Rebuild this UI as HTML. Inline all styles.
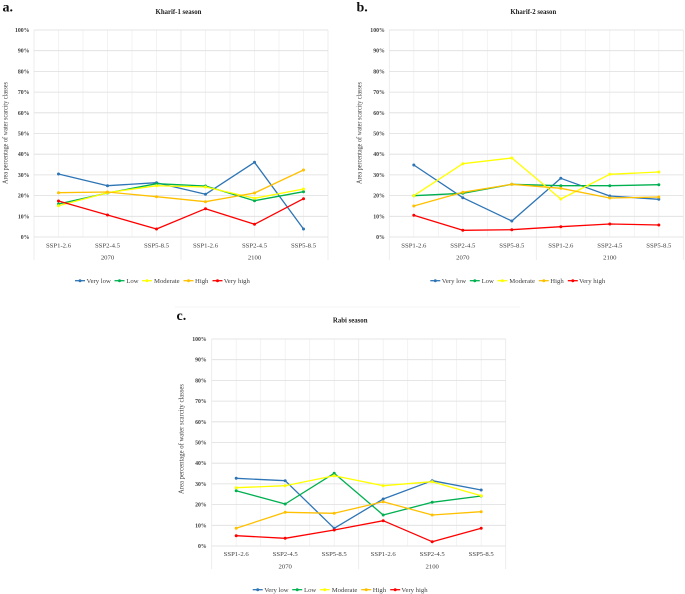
<!DOCTYPE html>
<html><head><meta charset="utf-8"><style>
html,body{margin:0;padding:0;background:#fff;}
svg{display:block;}
text{font-family:"Liberation Serif",serif;}
.t{font-size:5.8px;font-weight:bold;fill:#404040;text-anchor:end;}
.c{font-size:6.7px;fill:#404040;text-anchor:middle;}
.l{font-size:6.7px;fill:#404040;}
.ti{font-size:6.8px;font-weight:bold;fill:#222;text-anchor:middle;}
.yt{font-size:6.8px;fill:#404040;text-anchor:middle;}
.lt{font-size:14px;font-weight:bold;fill:#111;}
.hg{stroke:#dedede;stroke-width:0.8;}
.vg{stroke:#f0f0f0;stroke-width:0.8;}
.sp{stroke:#e8e8e8;stroke-width:0.8;}
.s{fill:none;stroke-width:1.3;stroke-linejoin:round;}
</style></head><body>
<svg width="685" height="594" viewBox="0 0 685 594" xmlns="http://www.w3.org/2000/svg">
<defs>
<marker id="m1" markerWidth="4" markerHeight="4" refX="2" refY="2" markerUnits="userSpaceOnUse"><circle cx="2" cy="2" r="1.5" fill="#2e75b6"/></marker>
<marker id="m2" markerWidth="4" markerHeight="4" refX="2" refY="2" markerUnits="userSpaceOnUse"><circle cx="2" cy="2" r="1.5" fill="#00b050"/></marker>
<marker id="m3" markerWidth="4" markerHeight="4" refX="2" refY="2" markerUnits="userSpaceOnUse"><circle cx="2" cy="2" r="1.5" fill="#ffff00"/></marker>
<marker id="m4" markerWidth="4" markerHeight="4" refX="2" refY="2" markerUnits="userSpaceOnUse"><circle cx="2" cy="2" r="1.5" fill="#ffc000"/></marker>
<marker id="m5" markerWidth="4" markerHeight="4" refX="2" refY="2" markerUnits="userSpaceOnUse"><circle cx="2" cy="2" r="1.5" fill="#ff0000"/></marker>
<g id="grid">
<path class="vg" d="M24.5 0V207M49 0V207M73.5 0V207M98 0V207M122.5 0V207M171.5 0V207M196 0V207M220.5 0V207M245 0V207M269.5 0V207"/>
<path class="sp" d="M0 0V230M147 0V230M294 0V230"/>
<path class="hg" d="M0 0H294M0 20.7H294M0 41.4H294M0 62.1H294M0 82.8H294M0 103.5H294M0 124.2H294M0 144.9H294M0 165.6H294M0 186.3H294M0 207H294"/>
<g stroke-width="1.3">
<line x1="41" y1="250.7" x2="51" y2="250.7" stroke="#2e75b6"/><circle cx="46" cy="250.7" r="1.5" fill="#2e75b6"/>
<line x1="80.5" y1="250.7" x2="90.5" y2="250.7" stroke="#00b050"/><circle cx="85.5" cy="250.7" r="1.5" fill="#00b050"/>
<line x1="108" y1="250.7" x2="118" y2="250.7" stroke="#ffff00"/><circle cx="113" cy="250.7" r="1.5" fill="#ffff00"/>
<line x1="149.5" y1="250.7" x2="159.5" y2="250.7" stroke="#ffc000"/><circle cx="154.5" cy="250.7" r="1.5" fill="#ffc000"/>
<line x1="178.5" y1="250.7" x2="188.5" y2="250.7" stroke="#ff0000"/><circle cx="183.5" cy="250.7" r="1.5" fill="#ff0000"/>
</g>
</g>
</defs>

<line x1="175" y1="307" x2="520" y2="307" stroke="#f3f3f3" stroke-width="0.8"/>

<text class="lt" x="2.5" y="11.5">a.</text>
<text class="lt" x="356.5" y="11.5">b.</text>
<text class="lt" x="176.5" y="320">c.</text>

<!-- Chart A -->
<g transform="translate(34,30)">
<use href="#grid"/>
<text class="ti" x="144.5" y="-16">Kharif-1 season</text>
<text class="yt" transform="translate(-26.5,103) rotate(-90)" textLength="102" lengthAdjust="spacingAndGlyphs">Area percentage of water scarcity classes</text>
<text class="t" x="-4.5" y="2">100%</text><text class="t" x="-4.5" y="22.7">90%</text><text class="t" x="-4.5" y="43.4">80%</text><text class="t" x="-4.5" y="64.1">70%</text><text class="t" x="-4.5" y="84.8">60%</text><text class="t" x="-4.5" y="105.5">50%</text><text class="t" x="-4.5" y="126.2">40%</text><text class="t" x="-4.5" y="146.9">30%</text><text class="t" x="-4.5" y="167.6">20%</text><text class="t" x="-4.5" y="188.3">10%</text><text class="t" x="-4.5" y="209">0%</text>
<text class="c" x="24.5" y="217.3">SSP1-2.6</text><text class="c" x="73.5" y="217.3">SSP2-4.5</text><text class="c" x="122.5" y="217.3">SSP5-8.5</text><text class="c" x="171.5" y="217.3">SSP1-2.6</text><text class="c" x="220.5" y="217.3">SSP2-4.5</text><text class="c" x="269.5" y="217.3">SSP5-8.5</text>
<text class="c" x="73.5" y="229.3">2070</text><text class="c" x="220.5" y="229.3">2100</text>
<text class="l" x="52.5" y="253">Very low</text><text class="l" x="92.3" y="253">Low</text><text class="l" x="120" y="253">Moderate</text><text class="l" x="161" y="253">High</text><text class="l" x="189.7" y="253">Very high</text>
<polyline class="s" stroke="#2e75b6" marker-start="url(#m1)" marker-mid="url(#m1)" marker-end="url(#m1)" points="24.5,144 73.5,155.7 122.5,152.7 171.5,164.3 220.5,132.3 269.5,199"/>
<polyline class="s" stroke="#00b050" marker-start="url(#m2)" marker-mid="url(#m2)" marker-end="url(#m2)" points="24.5,174 73.5,163 122.5,153.7 171.5,156 220.5,170.7 269.5,161.7"/>
<polyline class="s" stroke="#ffff00" marker-start="url(#m3)" marker-mid="url(#m3)" marker-end="url(#m3)" points="24.5,175.7 73.5,162.7 122.5,155.7 171.5,157 220.5,168.3 269.5,159"/>
<polyline class="s" stroke="#ffc000" marker-start="url(#m4)" marker-mid="url(#m4)" marker-end="url(#m4)" points="24.5,162.7 73.5,162 122.5,166.7 171.5,171.7 220.5,163 269.5,140"/>
<polyline class="s" stroke="#ff0000" marker-start="url(#m5)" marker-mid="url(#m5)" marker-end="url(#m5)" points="24.5,171 73.5,185 122.5,199 171.5,178.7 220.5,194.3 269.5,168.7"/>
</g>

<!-- Chart B -->
<g transform="translate(389.3,30)">
<use href="#grid"/>
<text class="ti" x="144" y="-16">Kharif-2 season</text>
<text class="yt" transform="translate(-28,103) rotate(-90)" textLength="102" lengthAdjust="spacingAndGlyphs">Area percentage of water scarcity classes</text>
<text class="t" x="-4.5" y="2">100%</text><text class="t" x="-4.5" y="22.7">90%</text><text class="t" x="-4.5" y="43.4">80%</text><text class="t" x="-4.5" y="64.1">70%</text><text class="t" x="-4.5" y="84.8">60%</text><text class="t" x="-4.5" y="105.5">50%</text><text class="t" x="-4.5" y="126.2">40%</text><text class="t" x="-4.5" y="146.9">30%</text><text class="t" x="-4.5" y="167.6">20%</text><text class="t" x="-4.5" y="188.3">10%</text><text class="t" x="-4.5" y="209">0%</text>
<text class="c" x="24.5" y="217.3">SSP1-2.6</text><text class="c" x="73.5" y="217.3">SSP2-4.5</text><text class="c" x="122.5" y="217.3">SSP5-8.5</text><text class="c" x="171.5" y="217.3">SSP1-2.6</text><text class="c" x="220.5" y="217.3">SSP2-4.5</text><text class="c" x="269.5" y="217.3">SSP5-8.5</text>
<text class="c" x="73.5" y="229.3">2070</text><text class="c" x="220.5" y="229.3">2100</text>
<text class="l" x="52.5" y="253">Very low</text><text class="l" x="92.3" y="253">Low</text><text class="l" x="120" y="253">Moderate</text><text class="l" x="161" y="253">High</text><text class="l" x="189.7" y="253">Very high</text>
<polyline class="s" stroke="#2e75b6" marker-start="url(#m1)" marker-mid="url(#m1)" marker-end="url(#m1)" points="24.5,135 73.5,167.7 122.5,191 171.5,148.3 220.5,166 269.5,169.3"/>
<polyline class="s" stroke="#00b050" marker-start="url(#m2)" marker-mid="url(#m2)" marker-end="url(#m2)" points="24.5,165.7 73.5,163.3 122.5,154.3 171.5,155.7 220.5,155.7 269.5,154.7"/>
<polyline class="s" stroke="#ffff00" marker-start="url(#m3)" marker-mid="url(#m3)" marker-end="url(#m3)" points="24.5,165.7 73.5,133.7 122.5,128 171.5,169 220.5,144.3 269.5,142"/>
<polyline class="s" stroke="#ffc000" marker-start="url(#m4)" marker-mid="url(#m4)" marker-end="url(#m4)" points="24.5,176 73.5,162.3 122.5,154.3 171.5,158.3 220.5,168 269.5,167"/>
<polyline class="s" stroke="#ff0000" marker-start="url(#m5)" marker-mid="url(#m5)" marker-end="url(#m5)" points="24.5,185.3 73.5,200.3 122.5,199.7 171.5,196.7 220.5,194 269.5,195"/>
</g>

<!-- Chart C -->
<g transform="translate(211.7,339)">
<use href="#grid"/>
<text class="ti" x="138.5" y="-16.5">Rabi season</text>
<text class="yt" transform="translate(-28,100) rotate(-90)" textLength="110" lengthAdjust="spacingAndGlyphs">Area percentage of water scarcity classes</text>
<text class="t" x="-5" y="2">100%</text><text class="t" x="-5" y="22.7">90%</text><text class="t" x="-5" y="43.4">80%</text><text class="t" x="-5" y="64.1">70%</text><text class="t" x="-5" y="84.8">60%</text><text class="t" x="-5" y="105.5">50%</text><text class="t" x="-5" y="126.2">40%</text><text class="t" x="-5" y="146.9">30%</text><text class="t" x="-5" y="167.6">20%</text><text class="t" x="-5" y="188.3">10%</text><text class="t" x="-5" y="209">0%</text>
<text class="c" x="24.5" y="217">SSP1-2.6</text><text class="c" x="73.5" y="217">SSP2-4.5</text><text class="c" x="122.5" y="217">SSP5-8.5</text><text class="c" x="171.5" y="217">SSP1-2.6</text><text class="c" x="220.5" y="217">SSP2-4.5</text><text class="c" x="269.5" y="217">SSP5-8.5</text>
<text class="c" x="73.5" y="229.3">2070</text><text class="c" x="220.5" y="229.3">2100</text>
<text class="l" x="52.5" y="253">Very low</text><text class="l" x="92.3" y="253">Low</text><text class="l" x="120" y="253">Moderate</text><text class="l" x="161" y="253">High</text><text class="l" x="189.7" y="253">Very high</text>
<polyline class="s" stroke="#2e75b6" marker-start="url(#m1)" marker-mid="url(#m1)" marker-end="url(#m1)" points="24.5,139.3 73.5,141.7 122.5,189.3 171.5,160 220.5,141.7 269.5,151"/>
<polyline class="s" stroke="#00b050" marker-start="url(#m2)" marker-mid="url(#m2)" marker-end="url(#m2)" points="24.5,151.7 73.5,165 122.5,134.3 171.5,176 220.5,163.3 269.5,157"/>
<polyline class="s" stroke="#ffff00" marker-start="url(#m3)" marker-mid="url(#m3)" marker-end="url(#m3)" points="24.5,148.7 73.5,146.7 122.5,136.7 171.5,146.7 220.5,142.7 269.5,156.7"/>
<polyline class="s" stroke="#ffc000" marker-start="url(#m4)" marker-mid="url(#m4)" marker-end="url(#m4)" points="24.5,189.3 73.5,173.3 122.5,174.3 171.5,162.7 220.5,176 269.5,172.7"/>
<polyline class="s" stroke="#ff0000" marker-start="url(#m5)" marker-mid="url(#m5)" marker-end="url(#m5)" points="24.5,196.7 73.5,199.3 122.5,191 171.5,181.7 220.5,202.7 269.5,189.3"/>
</g>
</svg>
</body></html>
